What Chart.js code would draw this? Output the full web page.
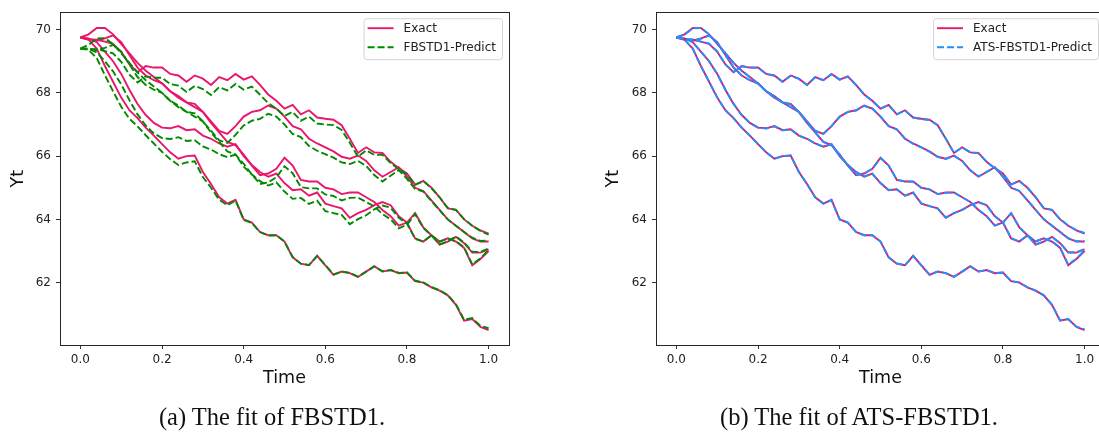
<!DOCTYPE html>
<html>
<head>
<meta charset="utf-8">
<script src="https://cdn.jsdelivr.net/npm/chart.js@4.4.1/dist/chart.umd.min.js"></script>
<style>
  html, body { margin: 0; padding: 0; background: #fff; width: 1099px; height: 433px; overflow: hidden; position: relative; }
  .wrap { position: absolute; top: 0; height: 433px; }
  #wrapA { left: 0; width: 549px; }
  #wrapB { left: 549px; width: 580px; }
  .caption { position: absolute; top: 402px; line-height: 30px; font-family: "Liberation Serif", "DejaVu Serif", serif; font-size: 24.5px; color: #111; white-space: nowrap; transform: translateX(-50%); }
</style>
</head>
<body>
<div class="wrap" id="wrapA"><canvas id="canvasFbstd" width="549" height="433"></canvas></div>
<div class="wrap" id="wrapB"><canvas id="canvasAts" width="580" height="433"></canvas></div>
<div class="caption" style="left:272px">(a) The fit of FBSTD1.</div>
<div class="caption" style="left:859px">(b) The fit of ATS-FBSTD1.</div>
<script>
// time grid
const timeGrid = [0.00,0.02,0.04,0.06,0.08,0.10,0.12,0.14,0.16,0.18,
                  0.20,0.22,0.24,0.26,0.28,0.30,0.32,0.34,0.36,0.38,
                  0.40,0.42,0.44,0.46,0.48,0.50,0.52,0.54,0.56,0.58,
                  0.60,0.62,0.64,0.66,0.68,0.70,0.72,0.74,0.76,0.78,
                  0.80,0.82,0.84,0.86,0.88,0.90,0.92,0.94,0.96,0.98,
                  1.00];
const xTicks = [0.0, 0.2, 0.4, 0.6, 0.8, 1.0];
const yTicks = [62, 64, 66, 68, 70];

// exact paths
const exact1 = [69.75,69.70,69.68,69.62,69.55,69.30,68.90,68.65,68.85,68.80,
                68.80,68.60,68.55,68.35,68.55,68.45,68.25,68.50,68.40,68.60,
                68.42,68.52,68.25,67.95,67.75,67.50,67.62,67.32,67.45,67.22,
                67.18,67.15,66.98,66.55,66.10,66.28,66.12,66.10,65.82,65.62,
                65.45,65.10,65.22,65.00,64.70,64.35,64.30,64.00,63.80,63.65,
                63.55];
const exact2 = [69.75,69.85,70.05,70.05,69.85,69.55,69.25,68.95,68.70,68.50,
                68.30,68.05,67.90,67.70,67.65,67.40,67.10,66.80,66.70,66.95,
                67.25,67.40,67.45,67.60,67.50,67.25,66.95,66.85,66.55,66.40,
                66.28,66.15,65.98,65.92,66.02,65.85,65.55,65.35,65.50,65.65,
                65.35,65.00,64.90,64.60,64.30,64.00,63.80,63.60,63.40,63.30,
                63.30];
const exact3 = [69.75,69.72,69.60,69.30,69.00,68.60,68.10,67.65,67.30,67.05,
                66.90,66.88,66.95,66.82,66.85,66.65,66.55,66.40,66.30,66.38,
                66.00,65.72,65.50,65.35,65.45,65.15,64.92,64.95,64.75,64.85,
                64.50,64.42,64.35,64.05,64.20,64.30,64.45,64.55,64.45,64.10,
                63.90,63.40,63.30,63.50,63.20,63.30,63.45,63.25,62.95,62.95,
                63.05];
const exact4 = [69.75,69.70,69.65,69.72,69.82,69.60,69.20,68.80,68.55,68.40,
                68.30,68.05,67.85,67.70,67.55,67.40,67.05,66.75,66.45,66.35,
                66.05,65.70,65.40,65.45,65.60,65.95,65.70,65.25,65.20,65.20,
                65.00,64.95,64.80,64.85,64.85,64.70,64.55,64.30,64.10,63.80,
                63.90,64.20,63.75,63.50,63.30,63.40,63.30,63.10,62.55,62.75,
                63.00];
const exact5 = [69.75,69.68,69.40,68.85,68.35,67.85,67.45,67.20,66.90,66.65,
                66.38,66.12,65.92,66.00,66.02,65.50,65.12,64.70,64.50,64.62,
                64.00,63.90,63.60,63.50,63.50,63.30,62.80,62.60,62.55,62.85,
                62.55,62.25,62.35,62.30,62.18,62.35,62.52,62.35,62.40,62.30,
                62.32,62.05,62.00,61.85,61.75,61.60,61.30,60.80,60.85,60.60,
                60.50];

// FBSTD1 predictions
const fbstd1 = [69.40,69.38,69.38,69.32,69.25,68.98,68.58,68.33,68.52,68.48,
                68.48,68.28,68.23,68.03,68.22,68.12,67.93,68.18,68.08,68.28,
                68.10,68.20,67.94,67.68,67.50,67.27,67.40,67.12,67.25,67.03,
                67.00,66.98,66.83,66.42,65.98,66.18,66.04,66.04,65.78,65.59,
                65.43,65.09,65.21,64.99,64.70,64.36,64.30,64.01,63.80,63.64,
                63.52];
const fbstd2 = [69.40,69.52,69.72,69.73,69.54,69.25,68.95,68.65,68.40,68.20,
                68.00,67.75,67.60,67.40,67.35,67.10,66.80,66.50,66.42,66.67,
                66.97,67.12,67.18,67.34,67.25,67.00,66.70,66.60,66.32,66.17,
                66.06,65.95,65.80,65.75,65.85,65.69,65.40,65.20,65.38,65.56,
                65.28,64.96,64.88,64.58,64.29,64.00,63.80,63.60,63.42,63.32,
                63.33];
const fbstd3 = [69.40,69.40,69.28,69.00,68.68,68.27,67.77,67.32,66.97,66.72,
                66.57,66.54,66.60,66.48,66.50,66.31,66.21,66.06,65.97,66.05,
                65.67,65.42,65.21,65.07,65.17,64.88,64.65,64.68,64.49,64.59,
                64.26,64.20,64.14,63.85,64.01,64.13,64.32,64.44,64.37,64.05,
                63.87,63.39,63.30,63.50,63.21,63.31,63.46,63.27,62.98,62.97,
                63.08];
const fbstd4 = [69.40,69.40,69.35,69.42,69.52,69.30,68.90,68.50,68.25,68.10,
                68.00,67.75,67.55,67.40,67.25,67.10,66.75,66.45,66.15,66.05,
                65.76,65.42,65.12,65.17,65.33,65.68,65.46,65.02,64.98,64.98,
                64.79,64.74,64.60,64.68,64.69,64.55,64.41,64.17,64.00,63.72,
                63.83,64.17,63.73,63.49,63.30,63.40,63.31,63.12,62.58,62.77,
                63.03];
const fbstd5 = [69.40,69.36,69.10,68.56,68.05,67.56,67.18,66.94,66.66,66.40,
                66.14,65.90,65.72,65.80,65.84,65.34,65.00,64.62,64.45,64.60,
                63.98,63.89,63.60,63.49,63.50,63.30,62.81,62.60,62.56,62.84,
                62.56,62.26,62.35,62.31,62.19,62.35,62.51,62.36,62.40,62.31,
                62.32,62.06,62.01,61.86,61.76,61.61,61.32,60.83,60.88,60.64,
                60.56];

// ATS-FBSTD1 predictions
const ats1 = [69.76,69.71,69.69,69.62,69.56,69.31,68.90,68.66,68.84,68.80,
              68.79,68.60,68.54,68.35,68.54,68.44,68.25,68.49,68.40,68.59,
              68.42,68.51,68.25,67.95,67.74,67.50,67.61,67.32,67.44,67.22,
              67.17,67.14,66.98,66.55,66.11,66.27,66.12,66.09,65.82,65.61,
              65.45,65.11,65.21,65.00,64.71,64.36,64.30,64.01,63.81,63.66,
              63.57];
const ats2 = [69.76,69.84,70.04,70.05,69.85,69.55,69.26,68.95,68.70,68.49,
              68.30,68.05,67.89,67.70,67.64,67.40,67.10,66.80,66.71,66.95,
              67.24,67.40,67.44,67.59,67.50,67.25,66.95,66.84,66.55,66.39,
              66.28,66.14,65.98,65.91,66.01,65.85,65.55,65.36,65.50,65.64,
              65.35,65.01,64.90,64.61,64.30,64.01,63.81,63.61,63.41,63.31,
              63.32];
const ats3 = [69.76,69.72,69.60,69.30,69.00,68.60,68.10,67.66,67.30,67.05,
              66.90,66.87,66.94,66.82,66.84,66.65,66.55,66.40,66.30,66.37,
              66.00,65.72,65.50,65.36,65.44,65.15,64.93,64.95,64.75,64.84,
              64.51,64.42,64.34,64.06,64.20,64.30,64.45,64.54,64.45,64.11,
              63.91,63.41,63.30,63.49,63.21,63.30,63.44,63.26,62.96,62.96,
              63.06];
const ats4 = [69.76,69.70,69.65,69.71,69.81,69.60,69.20,68.81,68.55,68.40,
              68.29,68.05,67.85,67.70,67.55,67.40,67.05,66.75,66.45,66.36,
              66.05,65.70,65.41,65.45,65.60,65.94,65.70,65.26,65.20,65.19,
              65.00,64.95,64.80,64.84,64.85,64.70,64.55,64.31,64.10,63.81,
              63.90,64.19,63.76,63.50,63.31,63.40,63.31,63.11,62.57,62.76,
              63.02];
const ats5 = [69.76,69.68,69.40,68.85,68.36,67.85,67.45,67.20,66.90,66.65,
              66.38,66.12,65.92,66.00,66.02,65.51,65.12,64.70,64.50,64.61,
              64.00,63.90,63.61,63.50,63.50,63.30,62.80,62.61,62.55,62.84,
              62.55,62.26,62.35,62.30,62.19,62.35,62.51,62.35,62.40,62.30,
              62.32,62.05,62.01,61.85,61.75,61.60,61.31,60.81,60.85,60.61,
              60.52];

const exactPaths = [exact1, exact2, exact3, exact4, exact5];
const fbstdPaths = [fbstd1, fbstd2, fbstd3, fbstd4, fbstd5];
const atsPaths = [ats1, ats2, ats3, ats4, ats5];

const PINK = '#e8176c';
const GREEN = '#008a00';
const BLUE = '#1e90ff';
const FONT = '"DejaVu Sans", sans-serif';

Chart.defaults.font.family = FONT;
Chart.defaults.color = '#222';

function toPoints(vals)
{
    return vals.map((v, i) => ({ x: timeGrid[i], y: v }));
}

function buildDatasets(predPaths, predLabel, predColor)
{
    const exactSets = exactPaths.map((vals, k) => ({
        label: 'Exact', data: toPoints(vals), borderColor: PINK, borderWidth: 1.9,
        pointRadius: 0, tension: 0, fill: false, order: 2, inLegend: k === 0
    }));
    const predSets = predPaths.map((vals, k) => ({
        label: predLabel, data: toPoints(vals), borderColor: predColor, borderWidth: 1.9,
        borderDash: [7, 3], pointRadius: 0, tension: 0, fill: false, order: 1, inLegend: k === 0
    }));
    return exactSets.concat(predSets);
}

// matplotlib-like frame around the axes
const framePlugin = {
    id: 'frame',
    afterDraw(chart)
    {
        const a = chart.chartArea, ctx = chart.ctx;
        ctx.save();
        ctx.strokeStyle = '#262626';
        ctx.lineWidth = 1;
        ctx.strokeRect(Math.round(a.left) + 0.5, Math.round(a.top) + 0.5,
                       Math.round(a.right - a.left), Math.round(a.bottom - a.top));
        ctx.restore();
    }
};

// legend box in the upper right corner
const boxLegend = {
    id: 'boxLegend',
    afterDraw(chart)
    {
        const a = chart.chartArea, ctx = chart.ctx;
        const items = chart.data.datasets.filter(d => d.inLegend);
        ctx.save();
        ctx.font = '12px ' + FONT;
        const textW = Math.max(...items.map(d => ctx.measureText(d.label).width));
        const w = 40 + textW + 6, h = 41;
        const x = a.right - 7 - w, y = a.top + 6;
        ctx.beginPath();
        ctx.roundRect(x + 0.5, y + 0.5, w, h, 3);
        ctx.fillStyle = 'rgba(255,255,255,0.85)';
        ctx.fill();
        ctx.strokeStyle = '#d4d4d4';
        ctx.lineWidth = 1;
        ctx.stroke();
        items.forEach((d, i) => {
            const ly = y + 10 + i * 19;
            ctx.beginPath();
            ctx.setLineDash(d.borderDash || []);
            ctx.strokeStyle = d.borderColor;
            ctx.lineWidth = d.borderWidth;
            ctx.moveTo(x + 4, ly);
            ctx.lineTo(x + 30, ly);
            ctx.stroke();
            ctx.setLineDash([]);
            ctx.fillStyle = '#222';
            ctx.textBaseline = 'middle';
            ctx.fillText(d.label, x + 40, ly + 1);
        });
        ctx.restore();
    }
};

function makeChart(canvasId, predPaths, predLabel, predColor, yWidth, yTitlePad, padRight)
{
    const ctx = document.getElementById(canvasId).getContext('2d');
    return new Chart(ctx, {
        type: 'line',
        data: { datasets: buildDatasets(predPaths, predLabel, predColor) },
        options: {
            responsive: false,
            animation: false,
            events: [],
            layout: { padding: { left: 0, right: padRight, top: 12, bottom: 0 } },
            plugins: { legend: { display: false }, tooltip: { enabled: false } },
            scales: {
                x: {
                    type: 'linear', min: -0.05, max: 1.05,
                    afterBuildTicks: s => { s.ticks = xTicks.map(v => ({ value: v })); },
                    afterFit: s => { s.height = 88; },
                    ticks: { callback: v => v.toFixed(1), font: { size: 12 }, color: '#222', padding: 4, maxRotation: 0, autoSkip: false },
                    grid: { display: true, drawOnChartArea: false, drawTicks: true, tickLength: 4, tickColor: '#333' },
                    border: { display: false },
                    title: { display: true, text: 'Time', font: { size: 17.5 }, color: '#111', padding: { top: 0, bottom: 44.5 } }
                },
                y: {
                    type: 'linear', min: 60.03, max: 70.55,
                    afterBuildTicks: s => { s.ticks = yTicks.map(v => ({ value: v })); },
                    afterFit: s => { s.width = yWidth; },
                    ticks: { callback: v => String(v), font: { size: 12 }, color: '#222', padding: 5 },
                    grid: { display: true, drawOnChartArea: false, drawTicks: true, tickLength: 4, tickColor: '#333' },
                    border: { display: false },
                    title: { display: true, text: 'Yt', font: { size: 17.5 }, color: '#111', padding: { top: yTitlePad, bottom: 0 } }
                }
            }
        },
        plugins: [framePlugin, boxLegend]
    });
}

makeChart('canvasFbstd', fbstdPaths, 'FBSTD1-Predict', GREEN, 60, 7.5, 40);
makeChart('canvasAts', atsPaths, 'ATS-FBSTD1-Predict', BLUE, 107, 53.5, 24);
</script>
</body>
</html>
